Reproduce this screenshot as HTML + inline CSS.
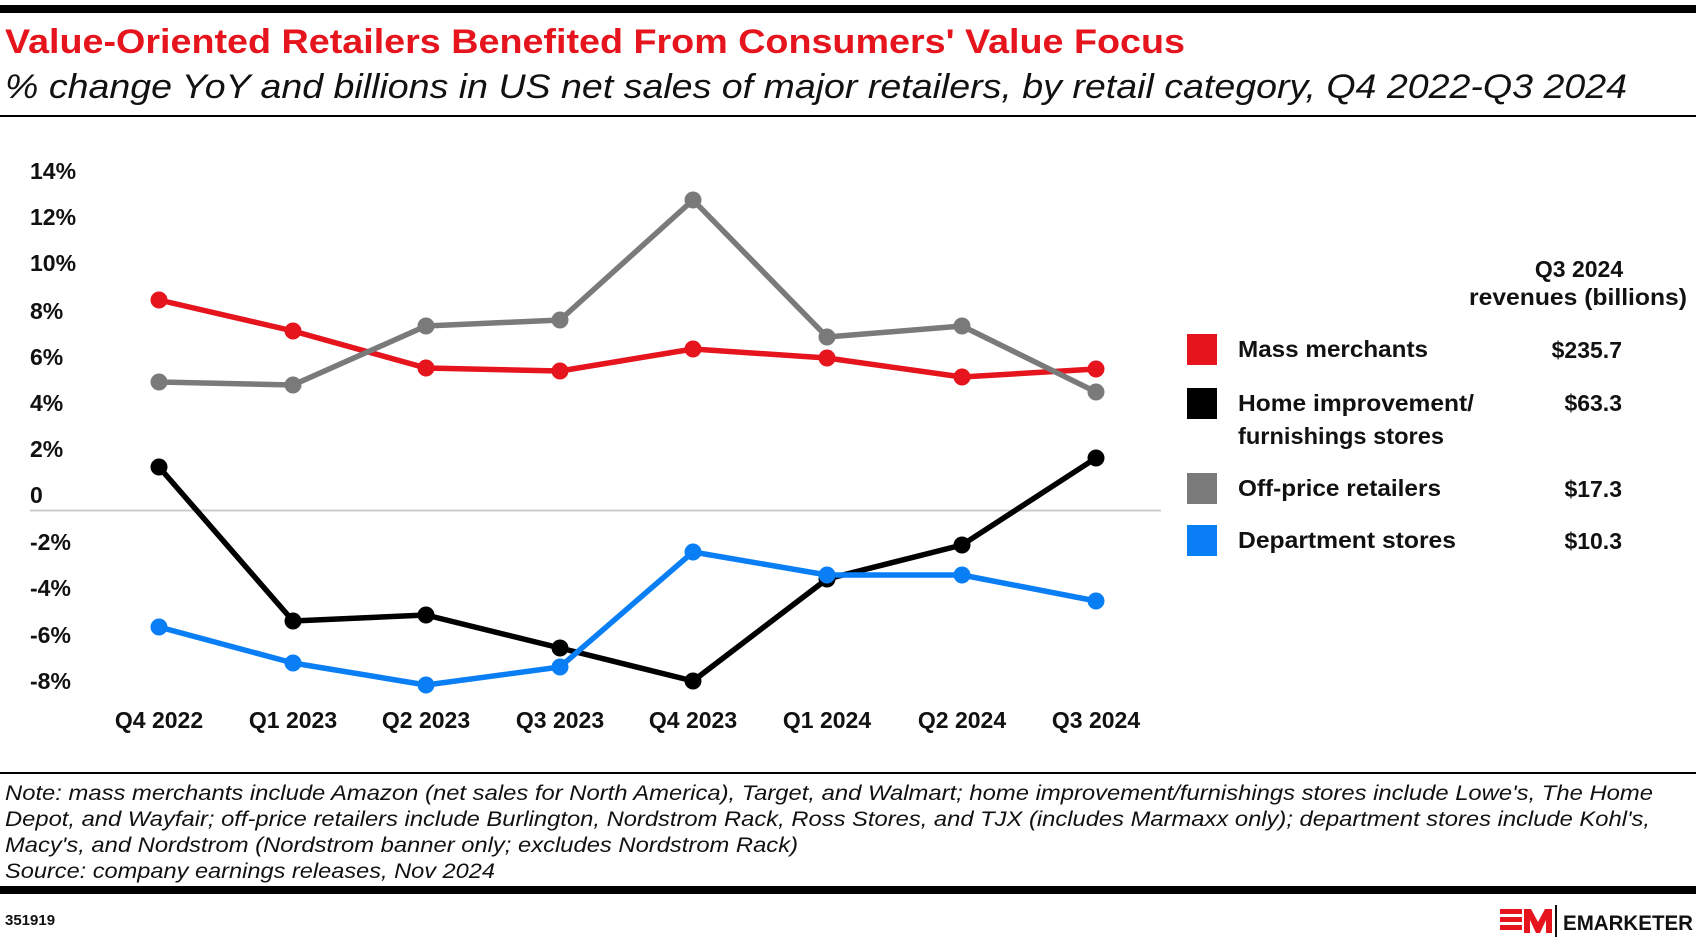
<!DOCTYPE html>
<html><head><meta charset="utf-8"><style>
body{margin:0;width:1696px;height:944px;background:#fff;overflow:hidden;font-family:"Liberation Sans",sans-serif;}
</style></head><body>
<svg width="1696" height="944" xmlns="http://www.w3.org/2000/svg" style="position:absolute;left:0;top:0">
<rect x="0" y="5" width="1696" height="8" fill="#000"/>
<text x="5" y="53" font-size="34" font-weight="bold" fill="#e5141d" textLength="1180" lengthAdjust="spacingAndGlyphs">Value-Oriented Retailers Benefited From Consumers' Value Focus</text>
<text x="5" y="98" font-size="34" font-style="italic" fill="#111" textLength="1622" lengthAdjust="spacingAndGlyphs">% change YoY and billions in US net sales of major retailers, by retail category, Q4 2022-Q3 2024</text>
<rect x="0" y="115" width="1696" height="2" fill="#000"/>
<g font-size="23" font-weight="bold" fill="#111">
<text x="30" y="179">14%</text><text x="30" y="225">12%</text><text x="30" y="271">10%</text>
<text x="30" y="319">8%</text><text x="30" y="365">6%</text><text x="30" y="411">4%</text>
<text x="30" y="457">2%</text><text x="30" y="503">0</text><text x="30" y="550">-2%</text>
<text x="30" y="596">-4%</text><text x="30" y="643">-6%</text><text x="30" y="689">-8%</text>
</g>
<line x1="30" y1="510.5" x2="1161" y2="510.5" stroke="#ccc" stroke-width="2"/>
<g font-size="23" font-weight="bold" fill="#111" text-anchor="middle">
<text x="159" y="728">Q4 2022</text><text x="293" y="728">Q1 2023</text><text x="426" y="728">Q2 2023</text><text x="560" y="728">Q3 2023</text>
<text x="693" y="728">Q4 2023</text><text x="827" y="728">Q1 2024</text><text x="962" y="728">Q2 2024</text><text x="1096" y="728">Q3 2024</text>
</g>
<g fill="none" stroke-width="5.5" stroke-linejoin="round">
<polyline stroke="#e5141d" points="159,300 293,331 426,368 560,371 693,349 827,358 962,377 1096,369"/>
<polyline stroke="#7a7a7a" points="159,382 293,385 426,326 560,320 693,200 827,337 962,326 1096,392"/>
<polyline stroke="#000" points="159,467 293,621 426,615 560,648 693,681 827,579 962,545 1096,458"/>
<polyline stroke="#0a7ff5" points="159,627 293,663 426,685 560,667 693,552 827,575 962,575 1096,601"/>
</g>
<g fill="#e5141d"><circle cx="159" cy="300" r="8.5"/><circle cx="293" cy="331" r="8.5"/><circle cx="426" cy="368" r="8.5"/><circle cx="560" cy="371" r="8.5"/><circle cx="693" cy="349" r="8.5"/><circle cx="827" cy="358" r="8.5"/><circle cx="962" cy="377" r="8.5"/><circle cx="1096" cy="369" r="8.5"/></g>
<g fill="#7a7a7a"><circle cx="159" cy="382" r="8.5"/><circle cx="293" cy="385" r="8.5"/><circle cx="426" cy="326" r="8.5"/><circle cx="560" cy="320" r="8.5"/><circle cx="693" cy="200" r="8.5"/><circle cx="827" cy="337" r="8.5"/><circle cx="962" cy="326" r="8.5"/><circle cx="1096" cy="392" r="8.5"/></g>
<g fill="#000"><circle cx="159" cy="467" r="8.5"/><circle cx="293" cy="621" r="8.5"/><circle cx="426" cy="615" r="8.5"/><circle cx="560" cy="648" r="8.5"/><circle cx="693" cy="681" r="8.5"/><circle cx="827" cy="579" r="8.5"/><circle cx="962" cy="545" r="8.5"/><circle cx="1096" cy="458" r="8.5"/></g>
<g fill="#0a7ff5"><circle cx="159" cy="627" r="8.5"/><circle cx="293" cy="663" r="8.5"/><circle cx="426" cy="685" r="8.5"/><circle cx="560" cy="667" r="8.5"/><circle cx="693" cy="552" r="8.5"/><circle cx="827" cy="575" r="8.5"/><circle cx="962" cy="575" r="8.5"/><circle cx="1096" cy="601" r="8.5"/></g>
<g font-size="23" font-weight="bold" fill="#111">
<text x="1579" y="277" text-anchor="middle">Q3 2024</text>
<text x="1469" y="305" textLength="218" lengthAdjust="spacingAndGlyphs">revenues (billions)</text>
<rect x="1187" y="334" width="30" height="31" fill="#e5141d"/>
<rect x="1187" y="388" width="30" height="31" fill="#000"/>
<rect x="1187" y="473" width="30" height="31" fill="#7a7a7a"/>
<rect x="1187" y="525" width="30" height="31" fill="#0a7ff5"/>
<text x="1238" y="357" textLength="190" lengthAdjust="spacingAndGlyphs">Mass merchants</text>
<text x="1238" y="411" textLength="236" lengthAdjust="spacingAndGlyphs">Home improvement/</text>
<text x="1238" y="444" textLength="206" lengthAdjust="spacingAndGlyphs">furnishings stores</text>
<text x="1238" y="496" textLength="203" lengthAdjust="spacingAndGlyphs">Off-price retailers</text>
<text x="1238" y="548" textLength="218" lengthAdjust="spacingAndGlyphs">Department stores</text>
<text x="1622" y="358" text-anchor="end">$235.7</text>
<text x="1622" y="411" text-anchor="end">$63.3</text>
<text x="1622" y="497" text-anchor="end">$17.3</text>
<text x="1622" y="549" text-anchor="end">$10.3</text>
</g>
<rect x="0" y="772" width="1696" height="2" fill="#000"/>
<g font-size="21" font-style="italic" fill="#111">
<text x="5" y="800" textLength="1648" lengthAdjust="spacingAndGlyphs">Note: mass merchants include Amazon (net sales for North America), Target, and Walmart; home improvement/furnishings stores include Lowe's, The Home</text>
<text x="5" y="826" textLength="1645" lengthAdjust="spacingAndGlyphs">Depot, and Wayfair; off-price retailers include Burlington, Nordstrom Rack, Ross Stores, and TJX (includes Marmaxx only); department stores include Kohl's,</text>
<text x="5" y="852" textLength="793" lengthAdjust="spacingAndGlyphs">Macy's, and Nordstrom (Nordstrom banner only; excludes Nordstrom Rack)</text>
<text x="5" y="878" textLength="490" lengthAdjust="spacingAndGlyphs">Source: company earnings releases, Nov 2024</text>
</g>
<rect x="0" y="886" width="1696" height="8" fill="#000"/>
<text x="5" y="925" font-size="15" font-weight="bold" fill="#111">351919</text>
<g fill="#e5141d">
<rect x="1500" y="909" width="22" height="5"/><rect x="1500" y="917" width="22" height="5"/><rect x="1500" y="925" width="22" height="5"/>
<polygon points="1524,909 1531,909 1538,922 1545,909 1552,909 1552,933 1546,933 1546,920 1540,933 1536,933 1530,920 1530,933 1524,933"/>
</g>
<rect x="1555" y="905" width="2" height="32" fill="#111"/>
<text x="1563" y="930" font-size="21" font-weight="bold" fill="#111" textLength="130" lengthAdjust="spacingAndGlyphs">EMARKETER</text>
</svg>
</body></html>
